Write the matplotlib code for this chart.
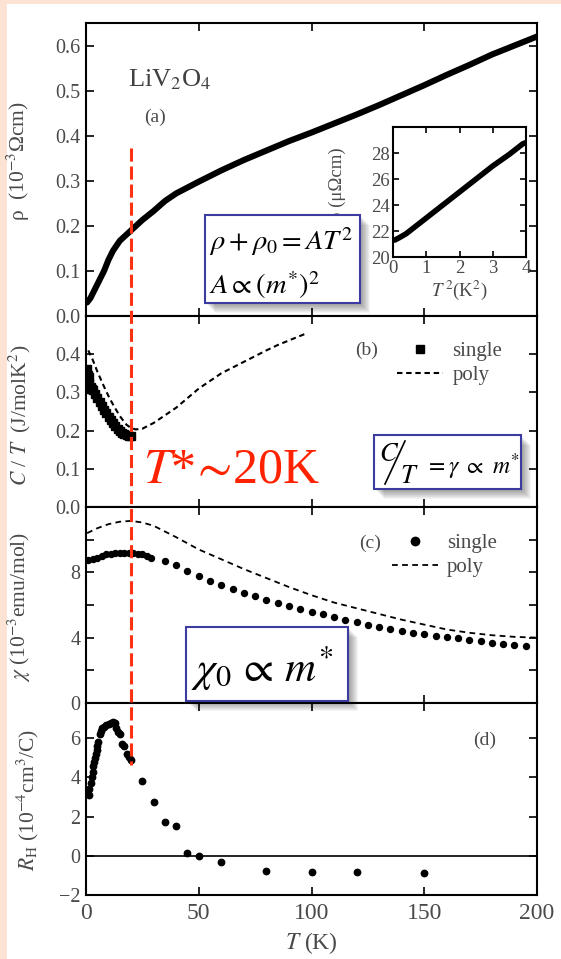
import matplotlib
matplotlib.use('Agg')
import matplotlib.pyplot as plt
import matplotlib.transforms as mtransforms
from matplotlib.patches import Rectangle
from matplotlib.lines import Line2D

plt.rcParams['font.family'] = ['Liberation Serif', 'DejaVu Serif']
plt.rcParams['mathtext.fontset'] = 'stix'

# ---- data ----
T_ticks = [0, 50, 100, 150, 200]
T_star = 20

# (a) resistivity, 10^-3 Ohm cm
T_rho = [0.5, 2, 4, 6, 8, 10, 12, 15, 20, 25, 30, 35, 40, 50, 60, 70, 80, 90,
         100, 110, 120, 130, 140, 150, 160, 170, 180, 190, 200]
rho = [0.03, 0.04, 0.06, 0.08, 0.10, 0.125, 0.145, 0.167, 0.19, 0.213, 0.233,
       0.255, 0.272, 0.298, 0.323, 0.346, 0.367, 0.388, 0.407, 0.427, 0.447,
       0.468, 0.49, 0.512, 0.535, 0.557, 0.58, 0.60, 0.62]

# inset: rho (micro Ohm cm) vs T^2
T2_in = [0.05, 0.2, 0.4, 0.6, 0.8, 1.0, 1.5, 2.0, 2.5, 3.0, 3.5, 3.9, 4.0]
rho_in = [21.3, 21.5, 21.8, 22.2, 22.6, 23.0, 24.0, 25.0, 26.0, 27.0, 27.9, 28.7, 28.8]

# (b) C/T
T_cs = [0.5, 0.6, 0.7, 0.8, 1.0, 1.2, 1.5, 2, 2.5, 3, 4, 5, 6, 7, 8, 9, 10,
        11, 12, 13, 14, 15, 16, 17, 18, 19, 20]
C_s = [0.33, 0.36, 0.31, 0.345, 0.32, 0.34, 0.325, 0.315, 0.31, 0.305, 0.295,
       0.285, 0.275, 0.265, 0.255, 0.245, 0.235, 0.228, 0.22, 0.212, 0.205,
       0.20, 0.195, 0.19, 0.188, 0.186, 0.186]
T_cp = [1, 3, 5, 8, 10, 12, 15, 18, 20, 22, 25, 30, 35, 40, 45, 50, 55, 60,
        65, 70, 75, 80, 85, 90, 95, 98]
C_p = [0.41, 0.385, 0.355, 0.315, 0.29, 0.268, 0.238, 0.215, 0.207, 0.203,
       0.205, 0.22, 0.24, 0.26, 0.285, 0.31, 0.33, 0.35, 0.365, 0.38, 0.395,
       0.41, 0.424, 0.436, 0.448, 0.455]

# (c) susceptibility, 10^-3 emu/mol
T_xs = [1, 3, 5, 7, 9, 11, 13, 15, 17, 19, 21, 23, 25, 27, 29,
        35, 40, 45, 50, 55, 60, 65, 70, 75, 80, 85, 90, 95, 100, 105, 110,
        115, 120, 125, 130, 135, 140, 145, 150, 155, 160, 165, 170, 175, 180,
        185, 190, 195]
chi_s = [8.75, 8.8, 8.9, 9.0, 9.1, 9.15, 9.2, 9.2, 9.2, 9.2, 9.2, 9.15, 9.1,
         9.0, 8.9,
         8.7, 8.45, 8.1, 7.8, 7.5, 7.25, 7.0, 6.75, 6.55, 6.3, 6.1, 5.95, 5.75,
         5.6, 5.42, 5.25, 5.1, 4.95, 4.8, 4.68, 4.55, 4.42, 4.3, 4.2, 4.1,
         4.02, 3.95, 3.85, 3.78, 3.7, 3.63, 3.57, 3.5]
T_xp = [0.5, 5, 10, 15, 20, 25, 30, 40, 50, 60, 70, 80, 90, 100, 110, 120,
        130, 140, 150, 160, 170, 180, 190, 200]
chi_p = [10.4, 10.7, 10.95, 11.1, 11.15, 11.05, 10.85, 10.15, 9.4, 8.8, 8.2,
         7.65, 7.1, 6.6, 6.15, 5.8, 5.45, 5.1, 4.8, 4.5, 4.3, 4.15, 4.05, 4.0]

# (d) Hall coefficient, 10^-4 cm^3/C
T_rh = [1.5, 1.5, 2, 2.5, 3, 3, 3.5, 4, 4.5, 5, 5, 5.5, 6, 6.5, 7, 8, 9, 10,
        11, 12, 13, 13.5, 14, 15, 16, 17, 18, 19, 20, 25, 30, 35, 40, 45, 50,
        60, 80, 100, 120, 150]
R_h = [3.1, 3.4, 3.7, 4.0, 4.3, 4.6, 4.8, 5.0, 5.2, 5.4, 5.6, 5.8, 6.2, 6.35,
       6.5, 6.6, 6.7, 6.75, 6.8, 6.85, 6.8, 6.5, 6.3, 6.2, 5.7, 5.6, 5.2, 5.05,
       4.9, 3.8, 2.75, 1.75, 1.5, 0.15, 0.0, -0.3, -0.75, -0.82, -0.85, -0.9]

# ---- layout ----
W, H = 561, 959
fig = plt.figure(figsize=(W / 100, H / 100), dpi=100)
fig.patch.set_facecolor('#fde3d3')
fig.add_artist(Rectangle((7 / W, 0), 1, 1 - 4 / H, transform=fig.transFigure,
                         facecolor='white', edgecolor='none', zorder=-5))

GRAY = '#4a4a4a'


def px_axes(x0, y0, x1, y1):
    return fig.add_axes([x0 / W, 1 - y1 / H, (x1 - x0) / W, (y1 - y0) / H])


def ftext(x, y, s, **kw):
    return fig.text(x / W, 1 - y / H, s, **kw)


def style(ax, labelsize=14.5):
    ax.tick_params(direction='in', top=True, right=True, length=6, width=1.2,
                   labelsize=labelsize, labelcolor=GRAY, pad=4)
    for s in ax.spines.values():
        s.set_linewidth(1.5)


def shadow_box(x0, y0, x1, y1):
    for k in range(1, 11):
        fig.add_artist(Rectangle(((x0 + k) / W, 1 - (y1 + k) / H), (x1 - x0) / W,
                                 (y1 - y0) / H, transform=fig.transFigure,
                                 facecolor='black', edgecolor='none', alpha=0.045,
                                 zorder=8))
    fig.add_artist(Rectangle((x0 / W, 1 - y1 / H), (x1 - x0) / W, (y1 - y0) / H,
                             transform=fig.transFigure, facecolor='white',
                             edgecolor='#3b3ba0', lw=1.5, zorder=9))


ax_a = px_axes(86, 23, 537, 316)
ax_b = px_axes(86, 316, 537, 507)
ax_c = px_axes(86, 507, 537, 703)
ax_d = px_axes(86, 703, 537, 895)

for ax in [ax_a, ax_b, ax_c, ax_d]:
    ax.set_xlim(0, 200)
    ax.set_xticks(T_ticks)
    style(ax)
for ax in [ax_a, ax_b, ax_c]:
    ax.tick_params(labelbottom=False)
ax_d.tick_params(axis='x', labelsize=17, pad=6)

# (a)
ax_a.plot(T_rho, rho, color='black', lw=4.4, solid_capstyle='round')
ax_a.set_ylim(0, 0.65)
ax_a.set_yticks([0, 0.1, 0.2, 0.3, 0.4, 0.5, 0.6])
ax_a.set_ylabel(r'ρ  (10$^{-3}$Ωcm)', fontsize=15.5, color=GRAY)
ax_a.yaxis.set_label_coords(-0.12, 0.53)

# (b)
ax_b.plot(T_cp, C_p, color='black', lw=1.5, dashes=(2.6, 1.8), label='poly')
ax_b.plot(T_cs, C_s, 's', color='black', ms=5.5, label='single')
ax_b.set_ylim(0, 0.5)
ax_b.set_yticks([0, 0.1, 0.2, 0.3, 0.4])
ax_b.set_ylabel(r'$C$ / $T$  (J/molK$^2$)', fontsize=15.5, color=GRAY)
ax_b.yaxis.set_label_coords(-0.118, 0.48)
h, l = ax_b.get_legend_handles_labels()
ax_b.legend(h[::-1], l[::-1], loc='upper left', bbox_to_anchor=(0.69, 0.865),
            frameon=False, fontsize=15, handlelength=2.2, handletextpad=0.45,
            labelspacing=0.2, borderpad=0, borderaxespad=0, labelcolor=GRAY)

# (c)
ax_c.plot(T_xp, chi_p, color='black', lw=1.3, dashes=(3.2, 2.4), label='poly')
ax_c.plot(T_xs, chi_s, 'o', color='black', ms=4.3, label='single')
ax_c.set_ylim(0, 12)
ax_c.set_yticks([0, 2, 4, 6, 8, 10])
ax_c.set_yticklabels(['0', '', '4', '', '8', ''])
ax_c.set_ylabel(r'$\chi$ (10$^{-3}$emu/mol)', fontsize=15.5, color=GRAY)
ax_c.yaxis.set_label_coords(-0.118, 0.49)
h, l = ax_c.get_legend_handles_labels()
ax_c.legend(h[::-1], l[::-1], loc='upper left', bbox_to_anchor=(0.678, 0.865),
            frameon=False, fontsize=15, handlelength=2.2, handletextpad=0.45,
            labelspacing=0.2, borderpad=0, borderaxespad=0, labelcolor=GRAY,
            markerscale=1.4)

# (d)
ax_d.axhline(0, color='black', lw=1.2)
ax_d.plot(T_rh, R_h, 'o', color='black', ms=4.6)
ax_d.set_ylim(-2, 7.8)
ax_d.set_yticks([-2, 0, 2, 4, 6])
ax_d.set_ylabel(r'$R_{\rm H}$ (10$^{-4}$cm$^3$/C)', fontsize=15.5, color=GRAY)
ax_d.yaxis.set_label_coords(-0.10, 0.495)
ax_d.set_xlabel(r'$T$ (K)', fontsize=17, color=GRAY, labelpad=4)

# inset
ax_in = px_axes(393, 127, 526, 257)
ax_in.plot(T2_in, rho_in, color='black', lw=4, solid_capstyle='round')
ax_in.set_xlim(0, 4)
ax_in.set_ylim(20, 30)
ax_in.set_xticks([0, 1, 2, 3, 4])
ax_in.set_yticks([20, 22, 24, 26, 28])
style(ax_in, labelsize=13.5)
ax_in.tick_params(length=4, pad=2)
ax_in.set_xlabel(r'$T^{\,2}$(K$^2$)', fontsize=13.5, color=GRAY, labelpad=1)
ax_in.set_ylabel(r'ρ (μΩcm)', fontsize=13.5, color=GRAY)
ax_in.yaxis.set_label_coords(-0.35, 0.56)

# T* marker line across panels
trans = mtransforms.blended_transform_factory(ax_a.transData, fig.transFigure)
fig.add_artist(Line2D([T_star, T_star], [1 - 148 / H, 1 - 765 / H],
                      transform=trans, color='#ff3311', lw=2.2,
                      dashes=(4.3, 1.6), zorder=6))

# panel labels
ftext(170, 80, r'LiV$_2$O$_4$', fontsize=19, color='#404040', ha='center', va='center')
ftext(155, 117, '(a)', fontsize=14, color=GRAY, ha='center', va='center')
ftext(367, 350, '(b)', fontsize=14, color=GRAY, ha='center', va='center')
ftext(370, 543, '(c)', fontsize=14, color=GRAY, ha='center', va='center')
ftext(485, 740, '(d)', fontsize=14, color=GRAY, ha='center', va='center')

ftext(143, 482, r'$T$*$\!\sim\!$20K', fontsize=36, color='#ff2200', va='baseline', zorder=10)

# formula boxes
shadow_box(205, 215, 360, 303)
ftext(209, 250, r'$\rho + \rho_0 = AT^2$', fontsize=20.5, va='baseline', zorder=10)
ftext(209, 294, r'$A \propto (m^{*})^2$', fontsize=20.5, va='baseline', zorder=10)

shadow_box(374, 435, 521, 489)
ftext(379, 461, r'$C$', fontsize=19, va='baseline', zorder=10)
fig.add_artist(Line2D([385 / W, 405 / W], [1 - 484 / H, 1 - 441 / H],
                      transform=fig.transFigure, color='black', lw=1.2, zorder=10))
ftext(400, 483, r'$T$', fontsize=19, va='baseline', zorder=10)
ftext(425, 474, r'$= \gamma\ \propto\ m^{*}$', fontsize=17, va='baseline', zorder=10)

shadow_box(186, 627, 348, 701)
ftext(191, 682, r'$\chi_0\,\propto\, m^{*}$', fontsize=31, va='baseline', zorder=10)

fig.savefig('out.png', dpi=100, facecolor=fig.get_facecolor())
